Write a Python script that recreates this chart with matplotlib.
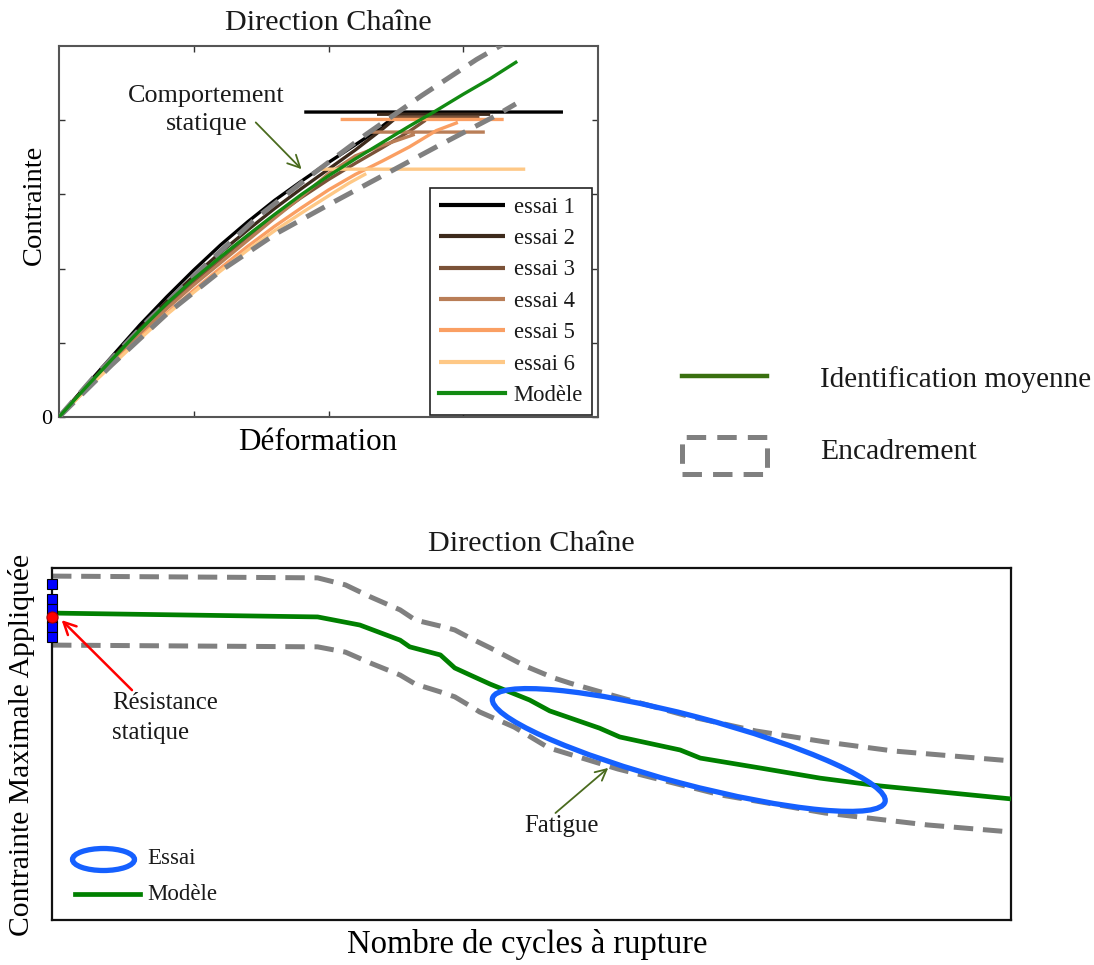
import numpy as np
import matplotlib
matplotlib.use("Agg")
import matplotlib.pyplot as plt
from matplotlib.lines import Line2D
from matplotlib.patches import Ellipse, Rectangle
from matplotlib.transforms import ScaledTranslation

plt.rcParams['font.family'] = ['Liberation Serif', 'DejaVu Serif']
plt.rcParams['lines.scale_dashes'] = False
plt.rcParams['text.color'] = '#1a1a1a'

# ---------------- static tests (strain / stress, arbitrary units) ----------------
essai_labels = ["essai 1", "essai 2", "essai 3", "essai 4", "essai 5", "essai 6"]
essai_colors = ["#000000", "#3d2a1c", "#7b5238", "#b97e57", "#fa9f63", "#fec886"]

essai1_x = [0, 0.2, 0.4, 0.6, 0.8, 1.0, 1.2, 1.4, 1.6, 1.8, 2.0, 2.2, 2.35, 2.45]
essai1_y = [0, 0.42, 0.83, 1.24, 1.62, 1.98, 2.32, 2.63, 2.92, 3.18, 3.43, 3.67, 3.85, 3.99]
essai2_x = [0, 0.2, 0.4, 0.6, 0.8, 1.0, 1.2, 1.4, 1.6, 1.8, 2.0, 2.2, 2.4, 2.52]
essai2_y = [0, 0.41, 0.80, 1.19, 1.56, 1.90, 2.22, 2.52, 2.81, 3.08, 3.34, 3.60, 3.88, 4.06]
essai3_x = [0, 0.2, 0.4, 0.6, 0.8, 1.0, 1.2, 1.4, 1.6, 1.8, 2.0, 2.2, 2.4, 2.6, 2.72]
essai3_y = [0, 0.40, 0.77, 1.15, 1.50, 1.82, 2.13, 2.43, 2.70, 2.96, 3.20, 3.42, 3.63, 3.85, 4.00]
essai4_x = [0, 0.2, 0.4, 0.6, 0.8, 1.0, 1.2, 1.4, 1.6, 1.8, 2.0, 2.2, 2.4, 2.64]
essai4_y = [0, 0.39, 0.75, 1.12, 1.46, 1.78, 2.08, 2.38, 2.68, 2.97, 3.28, 3.52, 3.66, 3.81]
essai5_x = [0, 0.2, 0.4, 0.6, 0.8, 1.0, 1.2, 1.4, 1.6, 1.8, 2.0, 2.2, 2.4, 2.6, 2.8, 2.96]
essai5_y = [0, 0.37, 0.72, 1.07, 1.40, 1.71, 2.01, 2.30, 2.57, 2.82, 3.06, 3.27, 3.45, 3.64, 3.86, 3.97]
essai6_x = [0, 0.2, 0.4, 0.6, 0.8, 1.0, 1.2, 1.4, 1.6, 1.8, 2.0, 2.15, 2.28]
essai6_y = [0, 0.37, 0.71, 1.05, 1.38, 1.68, 1.97, 2.25, 2.51, 2.75, 2.98, 3.15, 3.28]

# rupture plateaus: (stress level, strain start, strain end)
plateau_level = [4.11, 4.08, 4.04, 3.84, 4.01, 3.34]
plateau_start = [1.82, 2.36, 2.45, 2.30, 2.09, 1.92]
plateau_end = [3.74, 3.20, 3.12, 3.16, 3.30, 3.46]

model_x = [0, 0.2, 0.39, 0.6, 0.8, 1.0, 1.2, 1.4, 1.6, 1.8, 2.0, 2.2, 2.4, 2.6, 2.8, 3.0, 3.2, 3.39]
model_y = [0, 0.40, 0.77, 1.17, 1.53, 1.86, 2.16, 2.45, 2.73, 3.00, 3.25, 3.48, 3.70, 3.92,
           4.13, 4.35, 4.56, 4.78]
upper_x = [0, 0.26, 0.66, 1.07, 1.47, 1.88, 2.28, 2.69, 3.10, 3.32]
upper_y = [0, 0.54, 1.30, 2.02, 2.69, 3.27, 3.81, 4.33, 4.82, 5.05]
lower_x = [0, 0.39, 0.80, 1.20, 1.61, 2.01, 2.42, 2.82, 3.23, 3.39]
lower_y = [0, 0.70, 1.39, 1.97, 2.47, 2.87, 3.27, 3.66, 4.05, 4.22]

# ---------------- fatigue (cycles to failure / max stress, arbitrary units) ----------------
fat_x = [0, 2.77, 3.21, 3.63, 3.73, 4.05, 4.20, 4.36, 4.57, 4.98, 5.19, 5.71,
         5.92, 6.55, 6.76, 7.38, 8.01, 8.63, 9.26, 10.0]
fat_model = [8.72, 8.61, 8.38, 7.95, 7.76, 7.53, 7.16, 6.96, 6.70, 6.25, 5.94, 5.45,
             5.20, 4.83, 4.60, 4.32, 4.03, 3.81, 3.64, 3.44]
fat_up_x = [0, 2.77, 3.06, 3.32, 3.63, 3.79, 4.05, 4.20, 4.36, 4.57, 4.93, 5.23,
            5.40, 5.90, 6.62, 7.34, 8.06, 8.78, 10.0]
fat_up_y = [9.77, 9.72, 9.52, 9.18, 8.81, 8.52, 8.35, 8.24, 8.01, 7.73, 7.22, 6.88,
            6.73, 6.34, 5.80, 5.37, 5.06, 4.80, 4.52]
fat_lo_x = [0, 2.77, 3.06, 3.32, 3.63, 3.79, 4.05, 4.20, 4.36, 4.46, 4.82, 5.18,
            5.90, 6.98, 8.06, 9.13, 10.0]
fat_lo_y = [7.81, 7.76, 7.61, 7.30, 6.96, 6.70, 6.48, 6.34, 6.08, 5.91, 5.48, 4.89,
            4.29, 3.55, 3.04, 2.70, 2.50]
static_tests_y = [9.55, 9.12, 8.84, 8.58, 8.32, 8.04]
static_mean_y = 8.61

GREEN = "#128a12"
GRAY = "#808080"
OLIVE = "#4a6b1e"
BLUE = "#1560ff"

W, H = 1094, 965
fig = plt.figure(figsize=(W / 100, H / 100), dpi=100)


def fx(px):
    return px / W


def fy(py):
    return 1 - py / H


# ================= top panel =================
ax1 = fig.add_axes([fx(59), fy(417), (598 - 59) / W, (417 - 46) / H])
essais_x = [essai1_x, essai2_x, essai3_x, essai4_x, essai5_x, essai6_x]
essais_y = [essai1_y, essai2_y, essai3_y, essai4_y, essai5_y, essai6_y]
for i in range(6):
    xs = list(essais_x[i]) + [np.nan, plateau_start[i], plateau_end[i]]
    ys = list(essais_y[i]) + [np.nan, plateau_level[i], plateau_level[i]]
    ax1.plot(xs, ys, color=essai_colors[i], lw=2.4, label=essai_labels[i],
             solid_capstyle='butt', zorder=2)
ax1.plot(upper_x, upper_y, color=GRAY, lw=3.6, dashes=(15, 8), zorder=3)
ax1.plot(lower_x, lower_y, color=GRAY, lw=3.6, dashes=(15, 8), zorder=3)
ax1.plot(model_x, model_y, color=GREEN, lw=2.4, label="Modèle", zorder=4)

ax1.set_xlim(0, 4)
ax1.set_ylim(0, 5)
ax1.set_xticks([1, 2, 3])
ax1.set_xticklabels([])
ax1.set_yticks([0, 1, 2, 3, 4])
ax1.set_yticklabels(['0', '', '', '', ''])
ax1.tick_params(direction='in', length=4, width=1, top=True, right=True,
                labelsize=16, pad=5, color='#333333')
for s in ax1.spines.values():
    s.set_color('#555555')
    s.set_linewidth(1.5)

ax1.set_title("Direction Chaîne", fontsize=21.7, y=1.062, va='center', pad=0)
ax1.set_xlabel("Déformation", fontsize=22.4, va='center')
ax1.xaxis.set_label_coords(0.48, -0.07)
ax1.set_ylabel("Contrainte", fontsize=20.5, va='center')
ax1.yaxis.set_label_coords(-0.045, 0.571)

ax1.text(1.095, 4.14, "Comportement\nstatique", fontsize=18.8, ha='center',
         va='center', multialignment='center', linespacing=1.32)
ax1.annotate("", xy=(1.80, 3.34), xytext=(1.46, 3.97),
             arrowprops=dict(arrowstyle='->', color=OLIVE, lw=1.3,
                             mutation_scale=22, shrinkA=0, shrinkB=0))

leg = ax1.legend(loc='lower right', bbox_to_anchor=(0.989, 0.005), borderaxespad=0,
                 fontsize=16.3, handlelength=2.9, handletextpad=0.4, labelspacing=0.46,
                 borderpad=0.4, fancybox=False, framealpha=1, edgecolor='#222222')
leg.get_frame().set_linewidth(1.2)
for h in leg.get_lines():
    h.set_linewidth(3.0)

# ================= standalone key on the right =================
fig.add_artist(Line2D([fx(682), fx(767)], [fy(376), fy(376)], color="#3a7010",
                      lw=3.2, transform=fig.transFigure))
fig.text(fx(820), fy(380), "Identification moyenne", fontsize=21, va='center', ha='left')
fig.add_artist(Rectangle((fx(682), fy(474)), fx(767) - fx(682), fy(437) - fy(474),
                         transform=fig.transFigure, fill=False, edgecolor=GRAY,
                         lw=3.6, linestyle=(0, (14, 8))))
fig.text(fx(820), fy(452), "Encadrement", fontsize=21.3, va='center', ha='left')

# ================= bottom panel =================
ax2 = fig.add_axes([fx(52), fy(920), (1011 - 52) / W, (920 - 568) / H])
ax2.plot(fat_up_x, fat_up_y, color=GRAY, lw=3.6, dashes=(14, 7), zorder=2)
ax2.plot(fat_lo_x, fat_lo_y, color=GRAY, lw=3.6, dashes=(14, 7), zorder=2)
ax2.plot(fat_x, fat_model, color="#008000", lw=3.4, zorder=3, solid_capstyle='butt')

ax2.plot([0] * len(static_tests_y), static_tests_y, ls='none', marker='s', ms=7.5,
         mfc='#0000ff', mec='#000000', mew=0.8, clip_on=False, zorder=5)
ax2.plot([0], [static_mean_y], ls='none', marker='o', ms=8, mfc='#ff0000',
         mec='#aa0000', mew=0.8, clip_on=False, zorder=6)

# fatigue test cloud drawn as an ellipse in screen units around its centre
ell_center = (6.64, 4.83)
ell = Ellipse((0, 0), width=4.06, height=0.68, angle=-14.8, fill=False,
              edgecolor=BLUE, lw=3.8, zorder=4,
              transform=fig.dpi_scale_trans + ScaledTranslation(*ell_center, ax2.transData))
ax2.add_patch(ell)

ax2.set_xlim(0, 10)
ax2.set_ylim(0, 10)
ax2.set_xticks([])
ax2.set_yticks([])
for s in ax2.spines.values():
    s.set_color('#111111')
    s.set_linewidth(1.6)

ax2.set_title("Direction Chaîne", fontsize=21.7, y=1.068, va='center', pad=0)
ax2.set_xlabel("Nombre de cycles à rupture", fontsize=23.5, va='center')
ax2.xaxis.set_label_coords(0.496, -0.071)
ax2.set_ylabel("Contrainte Maximale Appliquée", fontsize=21.3, va='center')
ax2.yaxis.set_label_coords(-0.032, 0.497)

ax2.text(0.626, 5.74, "Résistance\nstatique", fontsize=17.8, ha='left', va='center',
         linespacing=1.42)
ax2.annotate("", xy=(0.10, 8.52), xytext=(0.834, 6.53),
             arrowprops=dict(arrowstyle='->', color='#ff0000', lw=1.8,
                             mutation_scale=22, shrinkA=0, shrinkB=0))
ax2.text(5.31, 2.67, "Fatigue", fontsize=17.8, ha='center', va='center')
ax2.annotate("", xy=(5.80, 4.32), xytext=(5.25, 3.04),
             arrowprops=dict(arrowstyle='->', color=OLIVE, lw=1.3,
                             mutation_scale=20, shrinkA=0, shrinkB=0))

# key of the bottom panel
ax2.add_patch(Ellipse(((103.5 - 52) / 959, (920 - 859.5) / 352), width=62 / 959,
                      height=22 / 352, transform=ax2.transAxes, fill=False,
                      edgecolor=BLUE, lw=3.8))
ax2.text((147 - 52) / 959, (920 - 859) / 352, "Essai", fontsize=16.5, va='center',
         transform=ax2.transAxes)
ax2.add_line(Line2D([(75 - 52) / 959, (140 - 52) / 959], [(920 - 894) / 352] * 2,
                    color="#008000", lw=3.4, transform=ax2.transAxes))
ax2.text((147 - 52) / 959, (920 - 894) / 352, "Modèle", fontsize=16.5, va='center',
         transform=ax2.transAxes)

fig.savefig("out.png", dpi=100)
